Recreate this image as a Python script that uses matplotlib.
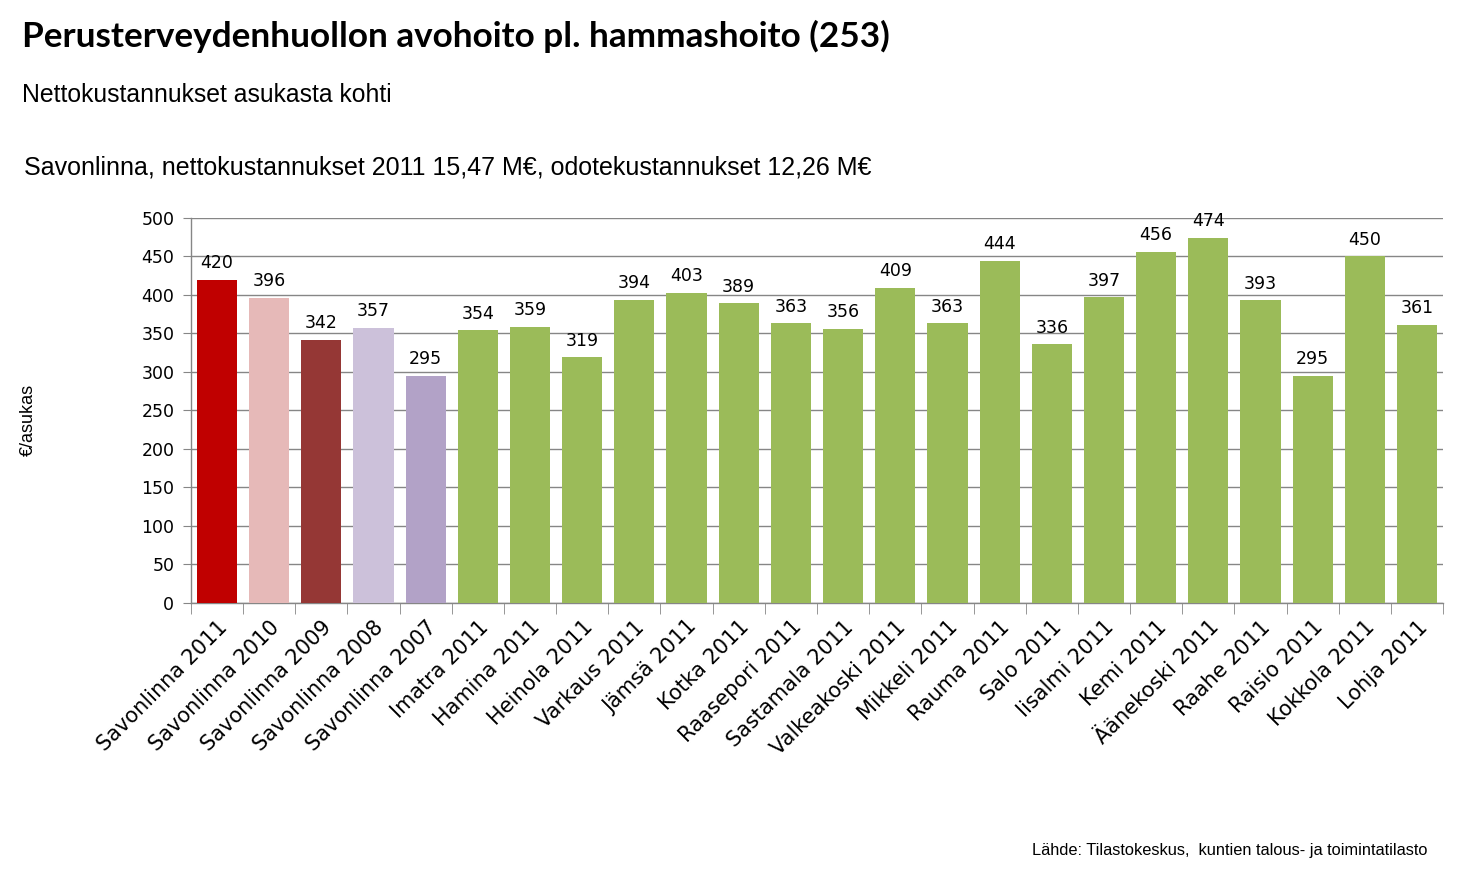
import matplotlib

matplotlib.use("Agg")
import matplotlib.pyplot as plt
import numpy as np

categories = [
    "Savonlinna 2011", "Savonlinna 2010", "Savonlinna 2009", "Savonlinna 2008",
    "Savonlinna 2007", "Imatra 2011", "Hamina 2011", "Heinola 2011",
    "Varkaus 2011", "Jämsä 2011", "Kotka 2011", "Raasepori 2011",
    "Sastamala 2011", "Valkeakoski 2011", "Mikkeli 2011", "Rauma 2011",
    "Salo 2011", "Iisalmi 2011", "Kemi 2011", "Äänekoski 2011",
    "Raahe 2011", "Raisio 2011", "Kokkola 2011", "Lohja 2011",
]
values = [420, 396, 342, 357, 295, 354, 359, 319, 394, 403, 389, 363,
          356, 409, 363, 444, 336, 397, 456, 474, 393, 295, 450, 361]
bar_colors = ["#C00000", "#E6B9B8", "#953735", "#CCC1DA", "#B2A2C7"] + ["#9BBB59"] * 19
y_ticks = [0, 50, 100, 150, 200, 250, 300, 350, 400, 450, 500]

grid_col = "#868686"

fig = plt.figure(figsize=(14.71, 8.81), dpi=100)
ax = fig.add_axes([0.1298, 0.3156, 0.8512, 0.437])

x = np.arange(len(categories))
ax.bar(x, values, width=0.77, color=bar_colors, zorder=3)

# data labels above each bar
for xi, v in zip(x, values):
    ax.text(xi, v + 10, str(v), ha="center", va="bottom", fontsize=12.5,
            family="DejaVu Sans", color="black")

ax.set_xlim(-0.5, len(categories) - 0.5)
ax.set_ylim(0, 500)
ax.set_yticks(y_ticks)
ax.set_yticklabels([str(t) for t in y_ticks], fontsize=12.5, family="DejaVu Sans")
ax.yaxis.grid(True, color=grid_col, linewidth=1, zorder=0)
ax.tick_params(axis="y", length=6, color=grid_col, pad=6)

ax.set_xticks(x)
ax.set_xticklabels(categories, rotation=45, ha="right", rotation_mode="anchor",
                   fontsize=15, family="DejaVu Sans")
ax.tick_params(axis="x", length=0, pad=10)
ax.set_xticks(np.arange(-0.5, len(categories)), minor=True)
ax.tick_params(axis="x", which="minor", length=8, color=grid_col)

for side in ("top", "right"):
    ax.spines[side].set_visible(False)
for side in ("left", "bottom"):
    ax.spines[side].set_color(grid_col)
    ax.spines[side].set_linewidth(1)

fig.text(28 / 1471, 1 - 420 / 881, "€/asukas", rotation=90, ha="center", va="center",
         fontsize=13, family="Liberation Sans")

fig.text(22 / 1471, 1 - 36 / 881, "Perusterveydenhuollon avohoito pl. hammashoito (253)",
         ha="left", va="center", fontsize=25.3, fontweight="bold", family="Lato")
fig.text(22 / 1471, 1 - 95 / 881, "Nettokustannukset asukasta kohti",
         ha="left", va="center", fontsize=17.8, family="Liberation Sans")
fig.text(24 / 1471, 1 - 168 / 881,
         "Savonlinna, nettokustannukset 2011 15,47 M€, odotekustannukset 12,26 M€",
         ha="left", va="center", fontsize=18, family="Liberation Sans")
fig.text(1428 / 1471, 1 - 851 / 881, "Lähde: Tilastokeskus,  kuntien talous- ja toimintatilasto",
         ha="right", va="center", fontsize=11.8, family="Liberation Sans")

fig.savefig("out.png", dpi=100)
